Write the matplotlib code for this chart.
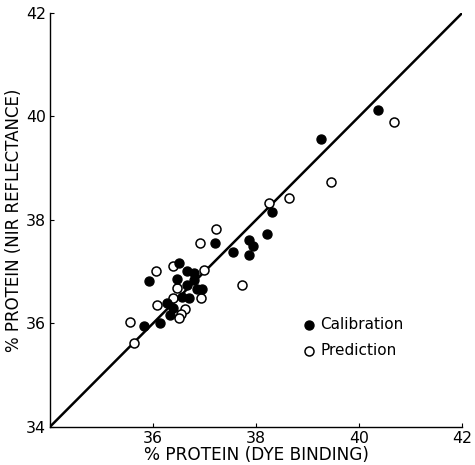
import matplotlib
matplotlib.use("Agg")
import matplotlib.pyplot as plt

plt.rcParams['font.family'] = ['DejaVu Sans']

cal_x = [40.37, 39.27, 38.31, 38.22, 37.86, 37.94, 37.86, 37.55, 37.20, 36.50,
         36.67, 36.80, 35.93, 36.46, 36.80, 36.67, 36.85, 36.95, 36.56, 36.70,
         36.27, 36.38, 36.34, 36.14, 35.83]
cal_y = [40.13, 39.56, 38.15, 37.73, 37.62, 37.49, 37.33, 37.38, 37.56, 37.17,
         37.01, 36.98, 36.82, 36.85, 36.84, 36.74, 36.66, 36.66, 36.51, 36.49,
         36.39, 36.29, 36.16, 36.01, 35.95]

pred_x = [40.67, 39.46, 38.64, 38.26, 37.22, 36.91, 36.06, 36.39, 37.00, 36.47,
          37.73, 36.93, 36.39, 36.08, 36.63, 36.54, 36.50, 35.55, 35.64]
pred_y = [39.90, 38.73, 38.42, 38.33, 37.82, 37.55, 37.01, 37.11, 37.04, 36.69,
          36.75, 36.49, 36.49, 36.35, 36.28, 36.19, 36.10, 36.03, 35.63]

line_xy = [34, 42]
x_ticks = [34, 36, 38, 40, 42]
x_tick_labels = ['', '36', '38', '40', '42']
y_ticks = [34, 36, 38, 40, 42]

fig = plt.figure(figsize=(4.75, 4.65), dpi=100)
ax = fig.add_axes([0.105, 0.082, 0.868, 0.890])

ax.plot(line_xy, line_xy, color='black', lw=1.8, zorder=1)
ax.scatter(cal_x, cal_y, s=42, facecolor='black', edgecolor='black', lw=1.0,
           zorder=3, label='Calibration')
ax.scatter(pred_x, pred_y, s=42, facecolor='white', edgecolor='black', lw=1.1,
           zorder=2, label='Prediction')

ax.set_xlim(34, 42)
ax.set_ylim(34, 42)
ax.set_xticks(x_ticks)
ax.set_xticklabels(x_tick_labels)
ax.set_yticks(y_ticks)
for s in ['top', 'right']:
    ax.spines[s].set_visible(False)
for s in ['left', 'bottom']:
    ax.spines[s].set_linewidth(1.0)
ax.tick_params(direction='in', length=3, width=0.8, labelsize=11.3, pad=3)
ax.set_xlabel('% PROTEIN (DYE BINDING)', fontsize=12.2, labelpad=0)
ax.set_ylabel('% PROTEIN (NIR REFLECTANCE)', fontsize=12, labelpad=2)

ax.legend(loc='upper left', bbox_to_anchor=(0.61, 0.265), frameon=False,
          fontsize=11, handlelength=1.0, handletextpad=0.25, borderpad=0,
          borderaxespad=0, labelspacing=0.7, scatterpoints=1)

fig.savefig('out.png', dpi=100)
